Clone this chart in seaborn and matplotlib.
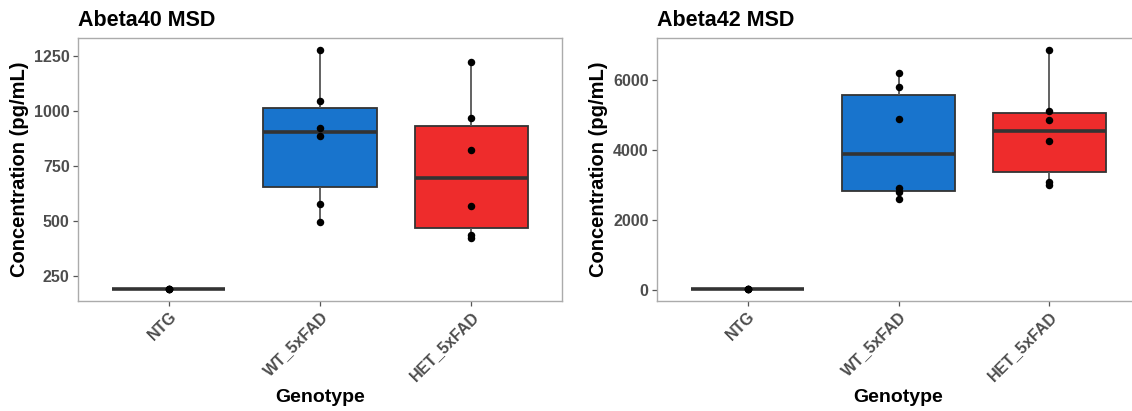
import numpy as np
import pandas as pd
import matplotlib
matplotlib.use("Agg")
import matplotlib.pyplot as plt
import seaborn as sns

# Genotype groups and measured concentrations (pg/mL)
genotypes = ["NTG", "WT_5xFAD", "HET_5xFAD"]
palette = {"NTG": "#B3B3B3", "WT_5xFAD": "#1874CD", "HET_5xFAD": "#EE2C2C"}

ab40_ntg = [190, 190, 190, 190]
ab40_wt = [492, 574, 883, 920, 1042, 1276]
ab40_het = [421, 435, 568, 823, 968, 1223]

ab42_ntg = [28, 28, 28, 28]
ab42_wt = [2590, 2780, 2900, 4870, 5790, 6200]
ab42_het = [2976, 3080, 4237, 4834, 5109, 6844]

ab40_ticks = [250, 500, 750, 1000, 1250]
ab42_ticks = [0, 2000, 4000, 6000]


def frame(ntg, wt, het):
    rows = []
    for g, vals in zip(genotypes, [ntg, wt, het]):
        rows += [(g, v) for v in vals]
    return pd.DataFrame(rows, columns=["Genotype", "Conc"])


sns.set_theme(style="white")
plt.rcParams["font.family"] = ["Liberation Sans", "DejaVu Sans"]
plt.rcParams["font.weight"] = "bold"

W, H = 1132, 411
fig = plt.figure(figsize=(W / 100, H / 100), dpi=100)

panels = [
    ("Abeta40 MSD", frame(ab40_ntg, ab40_wt, ab40_het), ab40_ticks, 78, 562, 20),
    ("Abeta42 MSD", frame(ab42_ntg, ab42_wt, ab42_het), ab42_ticks, 657, 1140, 599),
]
top_px, bottom_px = 38, 300.7

for title, df, yticks, x0, x1, ylab_x in panels:
    ax = fig.add_axes([x0 / W, 1 - bottom_px / H, (x1 - x0) / W, (bottom_px - top_px) / H])
    sns.boxplot(
        data=df, x="Genotype", y="Conc", hue="Genotype", order=genotypes,
        hue_order=genotypes, palette=palette, saturation=1, width=0.75,
        dodge=False, showfliers=False, showcaps=False, whis=1.5, legend=False,
        ax=ax, linewidth=1.3, linecolor="#333333",
        medianprops=dict(color="#333333", linewidth=2.6),
        whiskerprops=dict(color="#555555", linewidth=1.3),
    )
    sns.stripplot(
        data=df, x="Genotype", y="Conc", order=genotypes, jitter=False,
        color="black", size=5.4, ax=ax, zorder=5,
    )
    lo, hi = df["Conc"].min(), df["Conc"].max()
    pad = 0.05 * (hi - lo)
    ax.set_ylim(lo - pad, hi + pad)
    ax.set_xlim(-0.6, 2.6)
    ax.set_yticks(yticks)
    ax.set_yticklabels([str(t) for t in yticks])

    for s in ax.spines.values():
        s.set_visible(True)
        s.set_color("#ABABAB")
        s.set_linewidth(1.0)
    ax.tick_params(axis="both", which="major", length=3.5, width=0.9,
                   color="#555555", pad=2.5, labelsize=11.5,
                   labelcolor="#4D4D4D", bottom=True, left=True)
    for lab in ax.get_yticklabels():
        lab.set_fontweight("bold")
    ax.set_xticks(range(len(genotypes)))
    ax.set_xticklabels(genotypes, rotation=45, ha="right",
                       rotation_mode="anchor", fontweight="bold",
                       fontsize=11.5, color="#4D4D4D")
    ax.set_xlabel("Genotype", fontsize=14, fontweight="bold", color="black",
                  labelpad=4)
    ax.set_ylabel("")
    fig.text(ylab_x / W, 1 - ((top_px + bottom_px) / 2) / H,
             "Concentration (pg/mL)", rotation=90, ha="center", va="center",
             fontsize=14.5, fontweight="bold", color="black")
    fig.text(x0 / W, 1 - 26 / H, title, ha="left", va="baseline",
             fontsize=15.5, fontweight="bold", color="black")

fig.savefig("out.png", dpi=100)
